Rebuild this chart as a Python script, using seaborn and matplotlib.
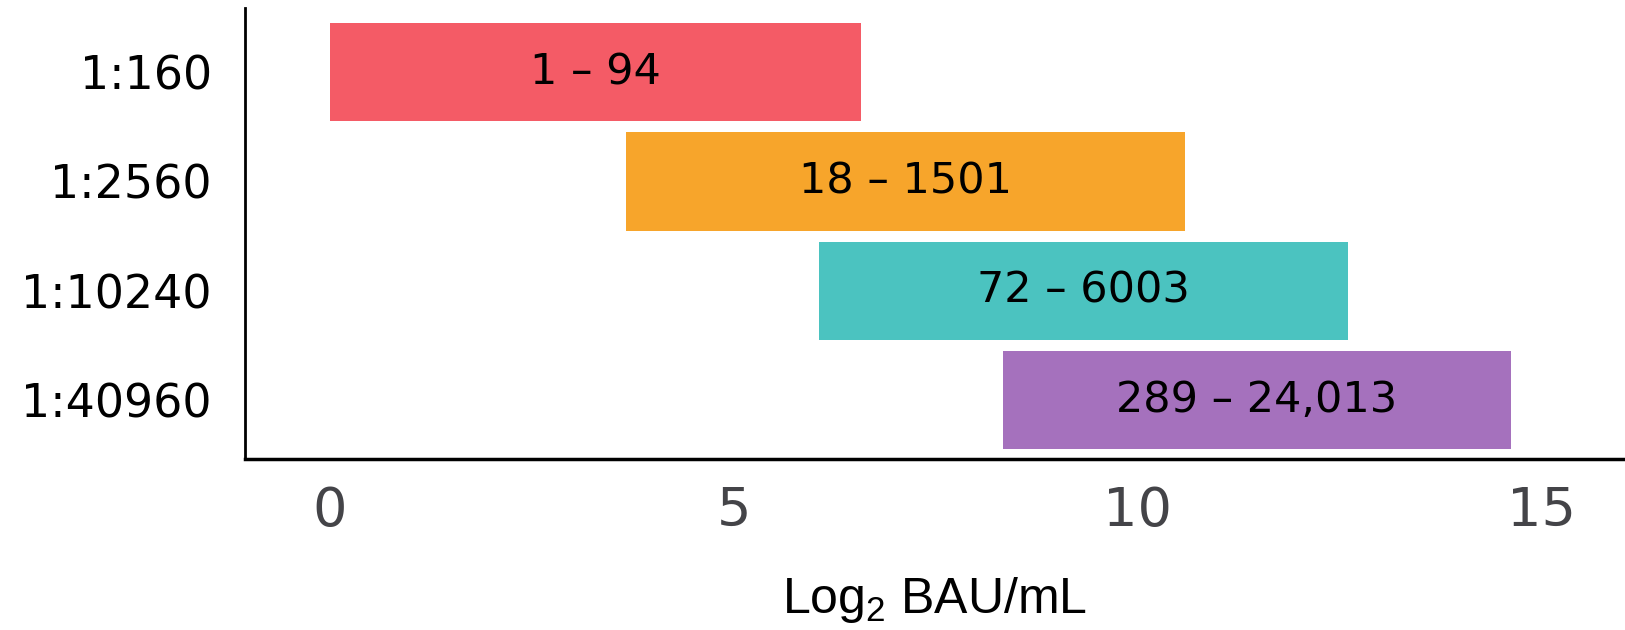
import matplotlib
matplotlib.use("Agg")
import matplotlib.pyplot as plt
import seaborn as sns
import pandas as pd

# dilution ranges (log2 BAU/mL)
diluicoes = ["1:160", "1:2560", "1:10240", "1:40960"]
inicio = [0.0, 3.66, 6.05, 8.33]
fim = [6.57, 10.59, 12.60, 14.62]
faixas = ["1 \u2013 94", "18 \u2013 1501", "72 \u2013 6003", "289 \u2013 24,013"]
cores = ["#F45B66", "#F7A52B", "#4BC3C0", "#A571BD"]
xticks = [0, 5, 10, 15]

sns.set_style("white")
plt.rcParams["font.family"] = ["DejaVu Sans"]
plt.rcParams["mathtext.default"] = "regular"

df = pd.DataFrame({"diluicao": diluicoes,
                   "largura": [f - i for i, f in zip(inicio, fim)],
                   "inicio": inicio})

fig = plt.figure(figsize=(16.25, 6.3), dpi=100)
ax = fig.add_axes([0.1508, 0.2714, 0.8492, 0.7156])

sns.barplot(data=df, x="largura", y="diluicao", left=df["inicio"].values,
            width=0.9, color=cores[0], linewidth=0, ax=ax)
for barra, cor in zip(ax.patches, cores):
    barra.set_facecolor(cor)

# range text centred on each bar
for i, (a, b, txt) in enumerate(zip(inicio, fim, faixas)):
    ax.text((a + b) / 2, i, txt, ha="center", va="center", fontsize=31, color="black")

ax.set_xlim(-1.05, 16.03)
ax.set_ylim(3.54, -0.585)
ax.set_xticks(xticks)
ax.set_xticklabels([str(t) for t in xticks], fontsize=39, color="#444448")
ax.tick_params(axis="x", length=0, pad=19)
ax.tick_params(axis="y", length=0, pad=24, labelsize=33, labelcolor="black")
ax.set_ylabel("")
ax.set_xlabel("Log$_2$ BAU/mL", fontsize=36, color="black",
              family=["Liberation Sans"], labelpad=27)

sns.despine(ax=ax, top=True, right=True)
ax.spines["left"].set_linewidth(2)
ax.spines["left"].set_color("black")
ax.spines["bottom"].set_linewidth(2.5)
ax.spines["bottom"].set_color("black")

fig.savefig("out.png", dpi=100)
